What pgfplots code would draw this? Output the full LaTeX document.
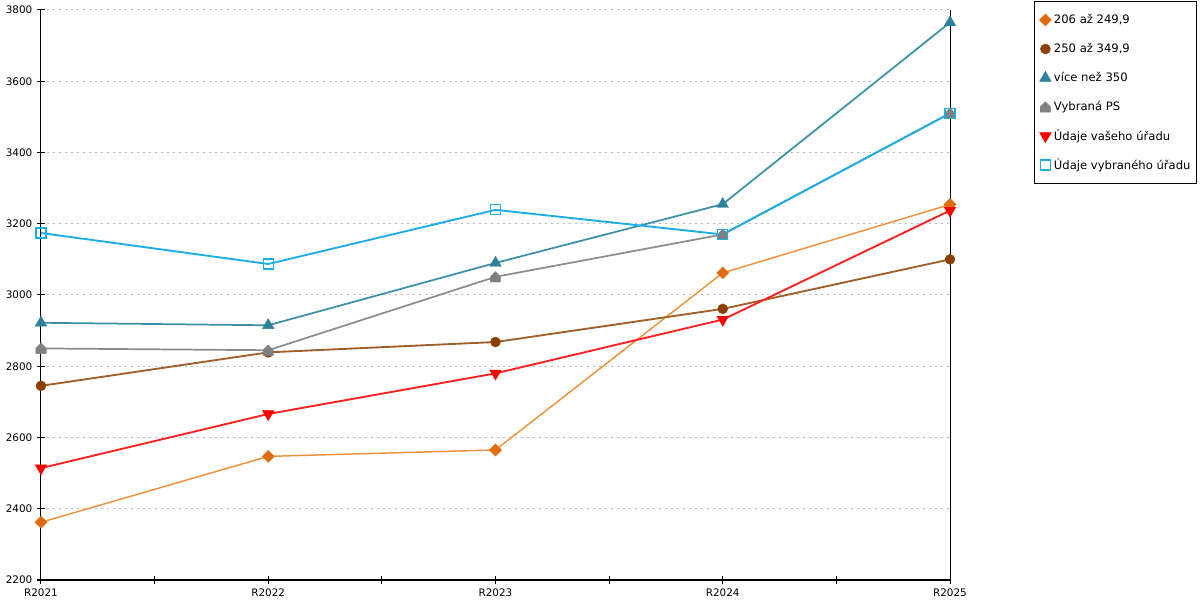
\documentclass[border=0pt]{standalone}
\usepackage{pgfplots}
\pgfplotsset{compat=1.18}
\usepackage{fontspec}
\setmainfont{DejaVu Sans}
\usetikzlibrary{plotmarks}

\definecolor{orM}{HTML}{E06C10}
\definecolor{orL}{HTML}{F0913C}
\definecolor{brM}{HTML}{8B4000}
\definecolor{brL}{HTML}{A0602A}
\definecolor{tlM}{HTML}{2E819A}
\definecolor{tlL}{HTML}{3C8FA6}
\definecolor{gyM}{HTML}{7F7F7F}
\definecolor{gyL}{HTML}{8C8C8C}
\definecolor{rdM}{HTML}{FF0000}
\definecolor{rdL}{HTML}{FF2020}
\definecolor{lbM}{HTML}{1BADE6}
\definecolor{gridc}{HTML}{B8B8B8}

\pgfdeclareplotmark{house}{%
 \pgfpathmoveto{\pgfqpoint{-\pgfplotmarksize}{-\pgfplotmarksize}}%
 \pgfpathlineto{\pgfqpoint{\pgfplotmarksize}{-\pgfplotmarksize}}%
 \pgfpathlineto{\pgfqpoint{\pgfplotmarksize}{0pt}}%
 \pgfpathlineto{\pgfqpoint{0pt}{\pgfplotmarksize}}%
 \pgfpathlineto{\pgfqpoint{-\pgfplotmarksize}{0pt}}%
 \pgfpathclose
 \pgfusepathqfillstroke}

\pgfplotstableread{
x a b c d e f
0 2362 2745 2922 2850 2514 3174
1 2547 2839 2915 2845 2666 3087
2 2565 2868 3090 3051 2780 3239
3 3062 2961 3255 3170 2931 3170
4 3254 3100 3765 3510 3237 3510
}\datatable

\begin{document}
\begin{tikzpicture}
\path[use as bounding box] (0,0) rectangle (900pt,450pt);
\begin{axis}[
 scale only axis, width=681.75pt, height=427.5pt,
 at={(30.75pt,15pt)}, anchor=south west, clip=false,
 xmin=0, xmax=4, ymin=2200, ymax=3800,
 xtick={0,1,2,3,4}, xticklabels={R2021,R2022,R2023,R2024,R2025},
 extra x ticks={0.5,1.5,2.5,3.5}, extra x tick labels={},
 ytick={2200,2400,...,3800},
 axis x line*=bottom, axis y line*=left,
 tick align=center, major tick length=6pt,
 ymajorgrids, grid style={color=gridc, line width=0.75pt, dash pattern=on 1.5pt off 3pt},
 tick style={black, line width=0.75pt},
 axis line style={black, line width=0.75pt},
 ticklabel style={font=\fontsize{7.8}{9}\selectfont},
 /pgf/number format/assume math mode=true,
 /pgf/number format/1000 sep={},
 legend style={at={(1.0924,1.0158)}, anchor=north west, draw=black, line width=0.75pt, fill=white,
   font=\fontsize{8.7}{10}\selectfont, row sep=0pt, inner xsep=3pt, inner ysep=3pt,
   nodes={minimum height=21.75pt, inner sep=1.2pt}},
 legend cell align=left,
 legend image code/.code={\path (-4.5pt,0) (4.5pt,0); \draw[#1,only marks] plot coordinates {(0pt,0pt)};},
]
\addplot[orL, line width=1.1pt, mark=square*, mark size=3.2pt, mark options={draw=orM, fill=orM, rotate=45, line width=0.3pt}] table[x=x,y=a]{\datatable};
\addlegendentry{206 až 249,9}
\addplot[brL, line width=1.4pt, mark=*, mark size=3.75pt, mark options={draw=brM, fill=brM, line width=0.3pt}] table[x=x,y=b]{\datatable};
\addlegendentry{250 až 349,9}
\addplot[tlL, line width=1.3pt, mark=triangle*, mark size=5pt, mark options={draw=tlM, fill=tlM, line width=0.3pt}] table[x=x,y=c]{\datatable};
\addlegendentry{více než 350}
\addplot[gyL, line width=1.3pt, mark=house, mark size=3.9pt, mark options={draw=gyM, fill=gyM, line width=0.3pt}] table[x=x,y=d]{\datatable};
\addlegendentry{Vybraná PS}
\addplot[rdL, line width=1.4pt, mark=triangle*, mark size=5pt, mark options={draw=rdM, fill=rdM, rotate=180, line width=0.3pt}] table[x=x,y=e]{\datatable};
\addlegendentry{Údaje vašeho úřadu}
\addplot[lbM, line width=1.4pt, mark=square, mark size=3.75pt, mark options={draw=lbM, fill=none, line width=0.9pt}] table[x=x,y=f]{\datatable};
\addlegendentry{Údaje vybraného úřadu}
\draw[black, line width=0.75pt] (rel axis cs:1,0) -- (rel axis cs:1,1);
\end{axis}
\end{tikzpicture}
\end{document}
